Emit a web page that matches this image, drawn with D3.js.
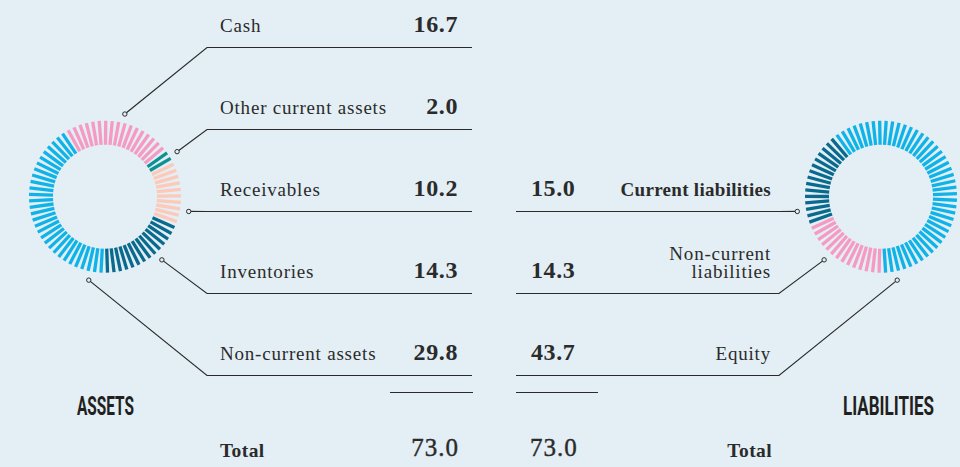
<!DOCTYPE html>
<html>
<head>
<meta charset="utf-8">
<title>Balance sheet</title>
<script src="https://d3js.org/d3.v7.min.js"></script>
<style>
  body { margin: 0; background: #e3eef5; }
  svg { display: block; }
  .label { font-family: "Liberation Serif", serif; font-size: 19px; fill: #2b2b2b; letter-spacing: 0.8px; }
  .value { font-family: "Liberation Serif", serif; font-size: 24px; font-weight: bold; fill: #2b2b2b; letter-spacing: 0.6px; }
  .total-value { font-family: "Liberation Serif", serif; font-size: 25px; fill: #2b2b2b; stroke: #2b2b2b; stroke-width: 0.4; letter-spacing: 1px; }
  .total-label { font-family: "Liberation Serif", serif; font-size: 19.5px; font-weight: bold; fill: #2b2b2b; letter-spacing: 0.4px; }
  .heading { font-family: Roboto, sans-serif; font-size: 26px; font-weight: 700; fill: #221f20; }
  .rule { stroke: #2b2b2b; stroke-width: 1.2; fill: none; }
  .dot { fill: #e3eef5; stroke: #2b2b2b; stroke-width: 1; }
</style>
</head>
<body>
<div id="chart"></div>
<script>
const width = 960, height = 467;

// assets, listed top to bottom in the table
const assetNames = ["Cash", "Other current assets", "Receivables", "Inventories", "Non-current assets"];
const assetValues = [16.7, 2.0, 10.2, 14.3, 29.8];
const assetColors = ["#f59bc3", "#0e9192", "#fdc9b9", "#0a6a8e", "#10b3e7"];

// liabilities, listed top to bottom (rows 3-5 of the table)
const liabNames = [["Current liabilities"], ["Non-current", "liabilities"], ["Equity"]];
const liabValues = [15.0, 14.3, 43.7];
const liabColors = ["#0a6a8e", "#f59bc3", "#10b3e7"];
const liabBold = [true, false, false];

const totalAssets = "73.0", totalLiab = "73.0";

// where each leader line meets its ring (degrees, clockwise from 12 o'clock)
const assetLeaderAngles = [13.5, 58, 100, 138, 191];
const liabLeaderAngles = [260, 222, 169];

const svg = d3.select("#chart").append("svg")
  .attr("width", width).attr("height", height);

svg.append("rect").attr("width", width).attr("height", height).attr("fill", "#e3eef5");

const rowY = d3.scaleLinear().domain([0, 4]).range([47.5, 375.5]);
const liabRow = [2, 3, 4];

const ring = { r0: 52, r1: 76, dot: 85, cy: 196.7 };
const leftCx = 105, rightCx = 881;

function polar(cx, deg, r) {
  const a = deg * Math.PI / 180;
  return [cx + r * Math.sin(a), ring.cy - r * Math.cos(a)];
}

// one bar per unit of value, coloured by the segment it falls in
function drawRing(cx, values, colors, startDeg) {
  const total = d3.sum(values);
  const ends = Array.from(d3.cumsum(values));
  const n = Math.round(total);
  const angle = d3.scaleLinear().domain([0, total]).range([startDeg, startDeg + 360]);
  svg.append("g").selectAll("line")
    .data(d3.range(n))
    .join("line")
    .attr("x1", i => polar(cx, angle(i + 0.5), ring.r0)[0])
    .attr("y1", i => polar(cx, angle(i + 0.5), ring.r0)[1])
    .attr("x2", i => polar(cx, angle(i + 0.5), ring.r1)[0])
    .attr("y2", i => polar(cx, angle(i + 0.5), ring.r1)[1])
    .attr("stroke", i => colors[Math.min(d3.bisectRight(ends, i + 0.5), values.length - 1)])
    .attr("stroke-width", 3.3);
}

drawRing(leftCx, assetValues, assetColors, -31.5);
// right ring runs clockwise from equity
const liabOrder = [2, 1, 0];
drawRing(rightCx, liabOrder.map(i => liabValues[i]), liabOrder.map(i => liabColors[i]), -38);

// ---- asset rows
const leftKink = 207, leftEnd = 472;
assetNames.forEach((name, i) => {
  const y = rowY(i);
  const p = polar(leftCx, assetLeaderAngles[i], ring.dot);
  svg.append("path").attr("class", "rule")
    .attr("d", d3.line()([p, [leftKink, y], [leftEnd, y]]));
  svg.append("circle").attr("class", "dot").attr("cx", p[0]).attr("cy", p[1]).attr("r", 2.2);
  svg.append("text").attr("class", "label").attr("x", 220).attr("y", y - 15.5).text(name);
  svg.append("text").attr("class", "value").attr("x", 458).attr("y", y - 15.5)
    .attr("text-anchor", "end").text(d3.format(".1f")(assetValues[i]));
});

// ---- liability rows
const rightKink = 779, rightStart = 516;
liabNames.forEach((lines, i) => {
  const y = rowY(liabRow[i]);
  const p = polar(rightCx, liabLeaderAngles[i], ring.dot);
  svg.append("path").attr("class", "rule")
    .attr("d", d3.line()([p, [rightKink, y], [rightStart, y]]));
  svg.append("circle").attr("class", "dot").attr("cx", p[0]).attr("cy", p[1]).attr("r", 2.2);
  svg.append("text").attr("class", "value").attr("x", 531).attr("y", y - 15.5)
    .text(d3.format(".1f")(liabValues[i]));
  lines.forEach((s, k) => {
    svg.append("text").attr("class", "label").attr("text-anchor", "end")
      .style("font-weight", liabBold[i] ? "bold" : null)
      .style("letter-spacing", liabBold[i] ? "0.3px" : null)
      .attr("x", 771).attr("y", y - 15.5 - (lines.length - 1 - k) * 18.5)
      .text(s);
  });
});

// ---- totals
svg.append("line").attr("class", "rule").attr("x1", 390).attr("x2", 473).attr("y1", 392.5).attr("y2", 392.5);
svg.append("line").attr("class", "rule").attr("x1", 516).attr("x2", 598).attr("y1", 392.5).attr("y2", 392.5);
svg.append("text").attr("class", "total-label").attr("x", 220).attr("y", 457).text("Total");
svg.append("text").attr("class", "total-label").attr("x", 772).attr("y", 457).attr("text-anchor", "end").text("Total");
svg.append("text").attr("class", "total-value").attr("x", 459).attr("y", 455.5).attr("text-anchor", "end").text(totalAssets);
svg.append("text").attr("class", "total-value").attr("x", 530).attr("y", 455.5).text(totalLiab);

// ---- headings: squeeze a bold sans into the condensed look
function heading(text, x, w) {
  const t = svg.append("text").attr("class", "heading").text(text);
  const natural = t.node().getComputedTextLength();
  t.attr("transform", `translate(${x},415) scale(${w / natural},1)`);
}
heading("ASSETS", 77, 57);
heading("LIABILITIES", 843, 91);
</script>
</body>
</html>
